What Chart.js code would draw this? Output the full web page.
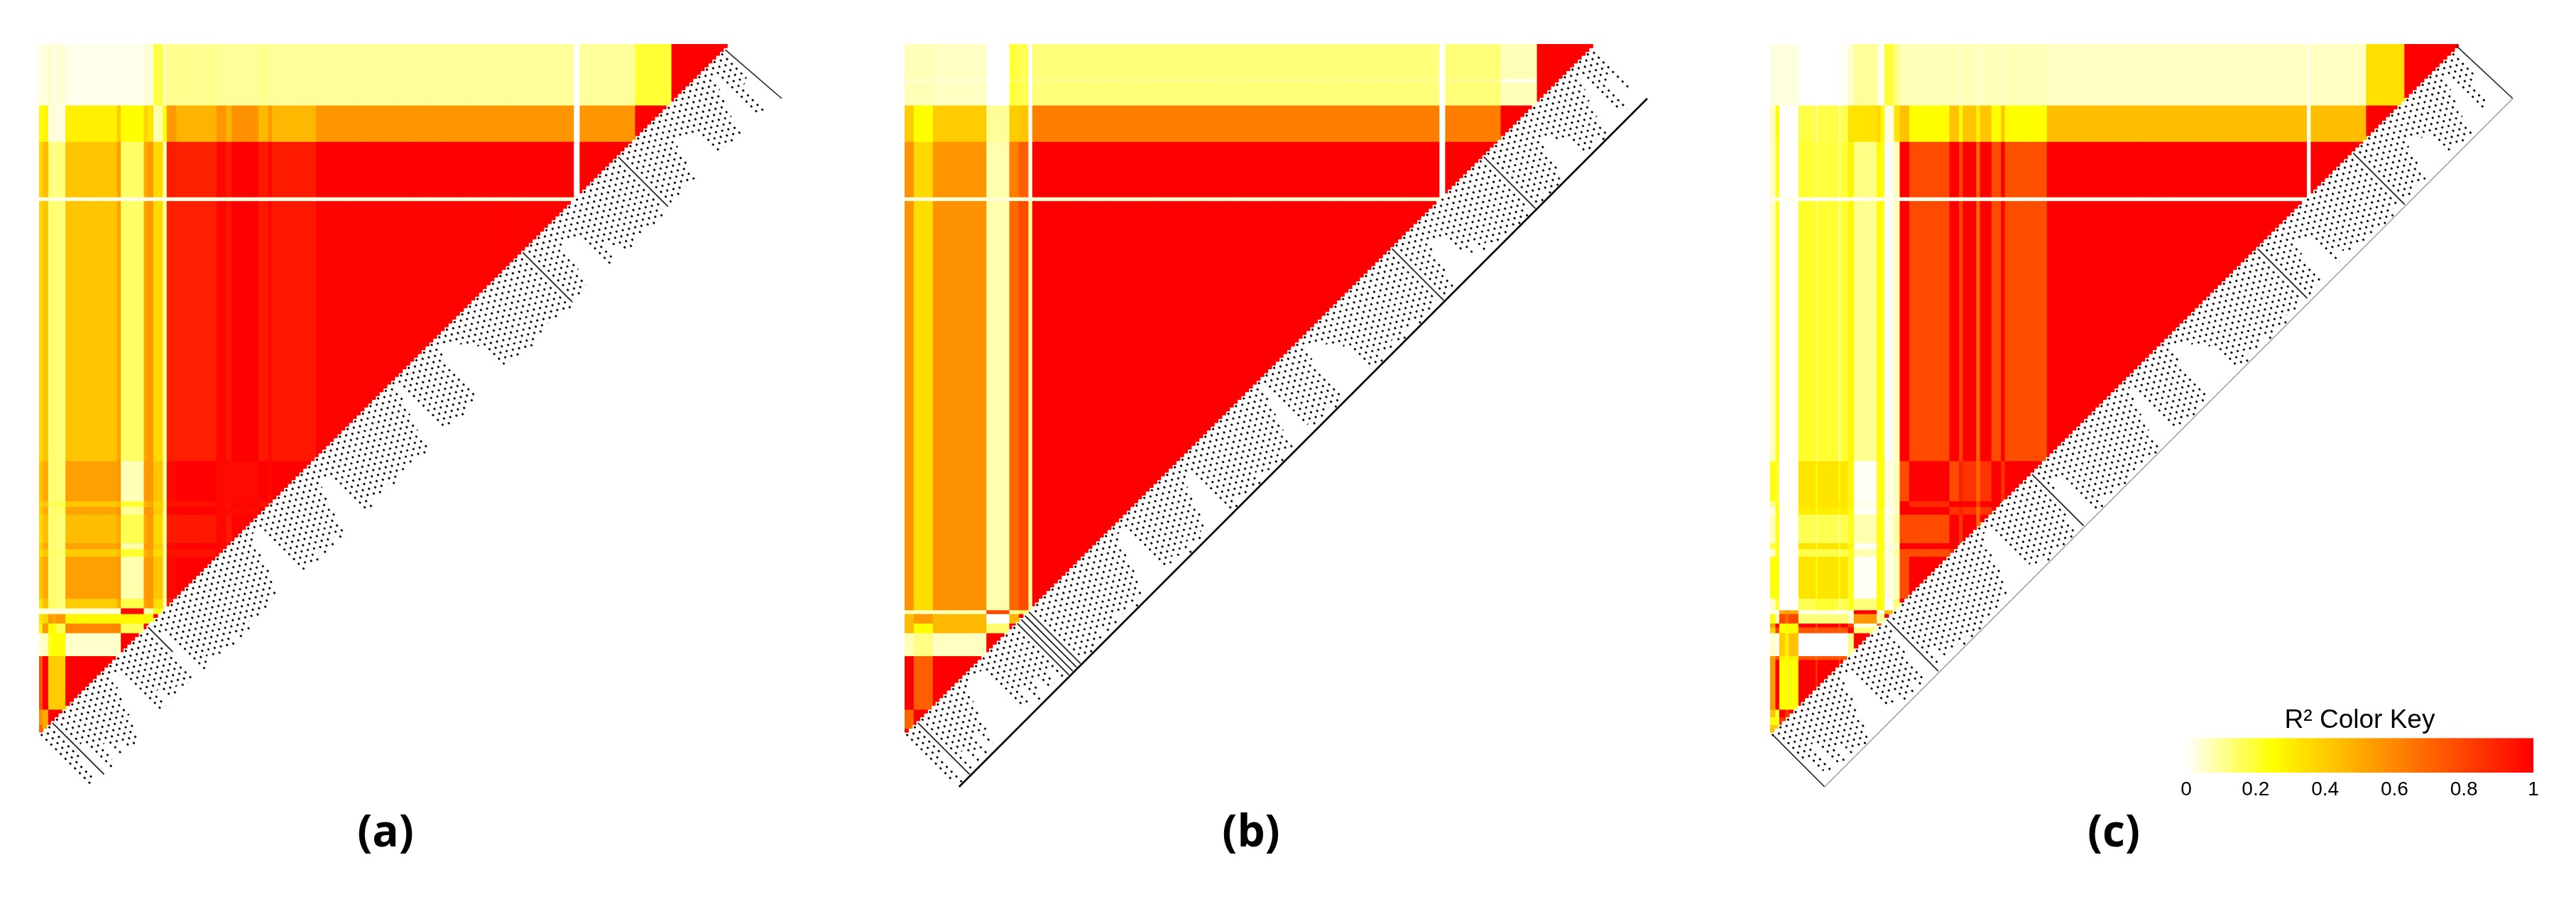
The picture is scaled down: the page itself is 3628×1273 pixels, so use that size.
<!DOCTYPE html>
<html><head><meta charset="utf-8">
<script src="https://cdn.jsdelivr.net/npm/chart.js@4"></script>
<style>html,body{margin:0;background:#fff;overflow:hidden}canvas{position:absolute;display:block}</style>
</head><body>
<canvas id="a"></canvas><canvas id="b"></canvas><canvas id="c"></canvas><canvas id="key"></canvas>
<script>
// Panel (a): band edges on the SNP grid and R2 per band (rows stop at the diagonal)
const colsA=[0,2,5,7,9,14,41,43,55,57,60,65,67,72,93,98,101,115,120,122,145,280,283,312,331,360];
const rowsA=[0,32,51,80,82,218,239,242,246,261,264,268,290,295,298,303,308,320,348,356,360];
const r2A=[
[.04,.03,.05,.03,.04,.02,.02,.02,.04,.04,.18,.08,.11,.11,.1,.1,.1,.11,.1,.1,.1,0,.1,.2,1],
[.25,.27,.02,.05,.03,.29,.4,.25,.38,.33,.08,.25,.55,.47,.56,.47,.57,.46,.56,.46,.56,0,.56,1],
[.36,.44,.14,.11,.13,.42,.53,.15,.5,.55,.36,.08,.92,.9,.98,.93,1,.93,.98,.92,1,0,1],
[.03,.03,.03,.03,.03,.03,.03,.03,.03,.03,.03,.03,.03,.03,.03,.03,.03,.03,.03,.03,.03],
[.36,.42,.13,.15,.13,.42,.52,.15,.52,.55,.36,.1,.91,.91,.98,.94,1,.93,.98,.93,.99],
[.42,.5,.12,.15,.13,.53,.55,.07,.55,.55,.42,.1,.98,1,.97,.97,.97,1,.97,1],
[.38,.42,.17,.15,.17,.42,.45,.2,.45,.5,.38,.15,.95,.95,.98,.95,.98,.95,.98],
[.4,.5,.12,.15,.15,.52,.55,.1,.55,.55,.4,.1,.99,1,.97,.97,.97,1],
[.36,.44,.13,.15,.13,.44,.5,.17,.5,.55,.36,.1,.92,.93,.98,.93,.99],
[.4,.5,.12,.15,.13,.52,.55,.08,.55,.55,.4,.1,.98,1,.98,.98],
[.36,.42,.15,.15,.14,.4,.45,.2,.48,.52,.36,.12,.95,.95,.98],
[.42,.5,.12,.15,.13,.53,.55,.08,.55,.55,.42,.1,.98,1],
[.33,.44,.15,.15,.13,.4,.5,.18,.52,.55,.35,.08,.92],
[.04,.04,.04,.04,.04,.04,.04,.97,.08,.08,.23],
[.33,.38,.55,.5,.55,.27,.27,.27,.27,.27,1],
[.28,.55,.25,.25,.17,.6,.6,.16,1],
[.05,.06,.23,.25,.25,.05,.05,1],
[.75,1,.4,.4,.4,1],
[.58,.5,1,1,1],
[.7,.5]];
const ticksA=[28,26,18,28,14,28,26,20,28,24,27,28,28, 24,19,14,9,4, 6,26, 26,20,26,27,24,27,26,27, 14,6,
27,27,24,27,27,26,27,28,26,28,27,28,26,27,27,26,27,26,26, 26,22,18,12,7,4,4, 27,26,27,28,26,28,27,28,26,28,
28,22,16,10,8,8, 27,28,26,27,28,27,26,28,27,26,28,27,28,26,27,28, 27,20,14,8,3, 26,27,26,27,28,27,26,28,
27,8,3,5,7,9,11,14, 27,26,27,28,26,27,28,27,26,28,27,26,27,28,26,27,28,27,26,27,27,26, 20,11,8,10,12,
28,26,20,24,27,28, 28,27,28,26,27,28,27,28,26,27,28,27,28,27,26,27,28, 22,14,12,13,14,16, 27,26,27,27,26,27,
20,15,10,6,26,27,15,14,2];
const solidA=[3,28,126,151];

// Panel (b)
const colsB=[0,5,15,43,55,60,65,67,280,283,312,331,360];
const rowsB=[0,18,20,32,51,80,82,296,298,303,308,320,348,358,360];
const r2B=[
[.07,.07,.06,0,.19,.17,0,.13,0,.13,.07,1],
[.05,.05,.04,0,.16,.14,0,.11,0,.11,.02,1],
[.07,.07,.06,0,.19,.17,0,.13,0,.13,.07,1],
[.4,.25,.4,.1,.4,.42,.02,.63,0,.63,1],
[.57,.36,.56,.08,.63,.72,.02,1,0,1],
[.04,.04,.04,.04,.04,.04,.04,.04],
[.57,.35,.57,.08,.7,.78,.1,1],
[.07,.07,.07,.8,.1,.15],
[.45,.55,.46,0,.47,1],
[.45,.25,.46,.14,1],
[.07,.12,.06,1],
[1,.72,1],
[.7,1],
[1]];
const ticksB=[26,28,16,28,28,20,27,24,28,18,26, 22,16,10,6,3, 3,3,4, 24,26,18,27,24,20,27,26,22,28,28,28,
28,28,26,28,28,27, 26,28,24,27,26,28,24,26,27,25,28,26, 26,22,18,12,7,4,3, 26,27,24,27,26,28,24,27,28,25,
26,22,16,10,8,6, 27,28,25,27,28,26,27,28,24,27,28,26,27,28,26,27, 27,20,14,8,3, 25,27,26,28,27,26,28,28,
26,9,3,5,7,9,11,14, 26,27,28,26,27,28,25,27,28,26,27,25,28,27,26,28,27,26,28,27,26,27, 22,12,8,10,12,
20,24,20,26,24,27, 28,26,28,27,28,28,27,28,26,28,27,28,26,28,27,28,27, 24,16,12,13,16,18, 27,28,27,26,28,27,
20,14,10,6,24,26,14,12,22];
const solidB=[3,29,30,31,32,127,151];

// Panel (c)
const colsC=[0,3,5,8,10,15,24,25,36,37,41,44,56,58,60,65,68,73,94,99,101,108,110,116,121,123,145,281,283,312,332,360];
const rowsC=[0,32,51,80,82,218,239,242,246,261,264,268,290,296,298,303,305,308,320,322,348,352,356,358,360];
const r2C=[
[.03,.04,.03,.03,.03,0,0,0,.01,.01,.05,.1,.04,.01,.2,.12,.07,.07,.07,.05,.07,.05,.07,.07,.06,.07,.06,.03,.06,.34,1],
[.06,.24,0,0,0,.18,.1,.18,.1,.17,.33,.33,.37,.26,.03,.33,.43,.25,.43,.27,.42,.3,.42,.25,.42,.25,.44,.02,.44,1],
[.06,.22,0,0,0,.2,.15,.19,.1,.2,.28,.12,.26,.24,.01,.07,1,.78,1,.8,1,.7,1,.78,1,.76,1,0,1],
[.02,.02,.02,.02,.02,.02,.02,.02,.02,.02,.02,.02,.02,.02,.02,.02,.02,.02,.02,.02,.02,.02,.02,.02,.02,.02,.02],
[.06,.22,0,0,0,.21,.15,.2,.1,.2,.27,.11,.26,.24,.01,.07,1,.78,1,.8,1,.7,1,.78,1,.77,1],
[.24,.2,0,0,0,.33,.25,.33,.25,.33,.27,.01,.22,.25,.03,.07,.78,1,.78,.9,.85,.7,.85,1,.85,1],
[.12,.22,.01,.01,.01,.33,.28,.33,.3,.33,.28,.02,.25,.25,.03,.08,1,.88,1,1,1,.8,1,1],
[.03,.22,.01,.01,.01,.3,.25,.3,.25,.3,.25,.01,.22,.22,.02,.06,1,1,.85,.9,.85,.7,.85,1],
[.07,.22,0,0,0,.17,.14,.17,.12,.17,.22,.08,.25,.22,.03,.1,.78,.78,1,.85,1,.7,1],
[.2,.22,0,0,0,.33,.25,.33,.25,.33,.27,.01,.22,.25,.03,.07,1,1,1],
[.05,.22,0,0,0,.18,.15,.18,.12,.18,.22,.08,.25,.22,.03,.1,.78,.78,.9],
[.24,.24,0,0,0,.33,.25,.33,.25,.33,.22,.01,.25,.22,.03,.07,.78,1],
[.05,.2,0,0,0,.17,.22,.2,.1,.17,.22,.13,.26,.24,.01,.15,1],
[.02,0,.5,.55,.5,.02,.02,.02,.02,.02,.02,1,.05,0,.45],
[.24,.07,.78,.7,.8,.13,.13,.13,.13,.13,.04,.55,.07,.12,1],
[.55,1,.25,.25,.25,1,.8,1,.8,1,.8,.03,.75],
[.4,.8,.25,.25,.25,.75,.7,.75,.7,.75,1,.13],
[.05,.02,.4,.3,.43,0,0,0,0,0,.12,1],
[.55,.75,.3,.25,.3,.75,.7,.75,.7,.75],
[.55,1,.25,.25,.25,1,.85,1,.85,1],
[.42,.2,1,.85,1],
[.25,.22,.85],
[.4,.4],
[.45]];
const ticksC=[2,16,24,27,14,26,28,22,28,26,27,28,27, 24,18,13,8,4, 5,24, 26,22,27,26,27,24,28,26, 15,7,
28,27,20,27,26,27,26,28,26,28,27,28,28,27,28,26,27,26,26, 27,22,18,12,7,4,3, 24,27,26,28,27,26,28,28,27,28,
28,22,28,11,8,8, 27,28,26,27,28,27,28,28,27,26,28,27,28,26,27,28, 28,20,14,8,4, 26,27,26,28,28,27,26,28,
27,10,3,5,7,9,11,14, 26,27,28,26,27,28,27,26,28,27,26,27,28,26,27,28,27,26,27,28,27,26, 26,14,8,10,12,
26,22,24,27,25,27, 28,27,28,26,27,28,27,28,26,27,28,27,28,27,26,27,28, 22,14,12,13,15,16, 27,26,27,27,26,27,
20,15,10,6,24,22,14,12,2];
const solidC=[30,68,127,152];

const panelLabels=['(a)','(b)','(c)'];
const keyTicks=[0,0.2,0.4,0.6,0.8,1];
const keyTitle='R\u00B2 Color Key';
const SNP_GRID=360, AXIS_MAX=390, TICK_SPAN=28.5;

// heat-colour ramp of the colour key
function heat(v){
  if(v<.25) return `rgb(255,255,${Math.round(255*(1-v/.25))})`;
  return `rgb(255,${Math.round(255*(1-(v-.25)/.75))},0)`;
}
function heatDatasets(cols,rows,r2){
  const out=[];
  r2.forEach((row,ri)=>{
    const data=[],colors=[];
    for(let c=0;c<SNP_GRID;c++){
      const limit=SNP_GRID-2*Math.floor(c/2);
      const lo=rows[ri], hi=Math.min(rows[ri+1],limit);
      if(hi<=lo) continue;
      let b=0; while(b<cols.length-2 && c>=cols[b+1]) b++;
      if(b>=row.length) continue;
      data.push({x:c+.5,y:[lo,hi]}); colors.push(heat(row[b]));
    }
    out.push({type:'bar',data,backgroundColor:colors,borderWidth:0,barThickness:3.2,grouped:false,order:5});
  });
  return out;
}
function tickDatasets(ticks,solid){
  return ticks.map((len,k)=>{
    const s=2*k, isSolid=solid.includes(k);
    return {type:'line',data:[{x:s+1,y:SNP_GRID-s+1},{x:s+len,y:SNP_GRID-s+len}],
      borderColor:isSolid?'#222':'#000',borderWidth:isSolid?1.8:2.6,borderDash:isSolid?[]:[3,6.5],
      borderDashOffset:(k%2)*4.75,pointRadius:0,fill:false,tension:0,order:1};
  });
}
function lineDataset(p,q,color,w){
  return {type:'line',data:[p,q],borderColor:color,borderWidth:w,pointRadius:0,fill:false,tension:0,order:0};
}
const S=SNP_GRID,T=TICK_SPAN;
const extras={
  a:[lineDataset({x:S-1,y:3},{x:S+T,y:T},'#222',1.6)],
  b:[lineDataset({x:T,y:S+T},{x:S+T,y:T},'#000',2.6)],
  c:[lineDataset({x:T,y:S+T},{x:S+T,y:T},'#999',1.4),
     lineDataset({x:S-1,y:1},{x:S+T,y:T},'#222',1.6),
     lineDataset({x:1,y:S+1},{x:T,y:S+T},'#222',1.6)]
};
function panel(id,left,cols,rows,r2,ticks,solid,label,labelSpan){
  const cv=document.getElementById(id);
  cv.style.left=left+'px'; cv.style.top='62px'; cv.width=1050; cv.height=1150;
  let fullRight;
  new Chart(cv,{type:'bar',
    data:{datasets:[...extras[id],...tickDatasets(ticks,solid),...heatDatasets(cols,rows,r2)]},
    plugins:[{id:'labelSpan',
      beforeDraw(ch){fullRight=ch.scales.x.right;ch.scales.x.right=ch.scales.x.left+labelSpan;},
      beforeDatasetsDraw(ch){ch.scales.x.right=fullRight;}}],
    options:{responsive:false,animation:false,events:[],devicePixelRatio:1,
      layout:{padding:0},
      plugins:{legend:{display:false},tooltip:{enabled:false},title:{display:false}},
      scales:{
        x:{type:'linear',min:0,max:AXIS_MAX,offset:false,grid:{display:false},border:{display:false},
           ticks:{display:false},
           title:{display:true,text:label,color:'#000',font:{family:'"Open Sans"',weight:'bold',size:62},padding:{top:0,bottom:0}},
           afterFit(sc){sc.height=100;}},
        y:{type:'linear',display:false,reverse:true,min:0,max:AXIS_MAX}
      }}});
}
panel('a',55,colsA,rowsA,r2A,ticksA,solidA,panelLabels[0],976);
panel('b',1274,colsB,rowsB,r2B,ticksB,solidB,panelLabels[1],976);
panel('c',2493,colsC,rowsC,r2C,ticksC,solidC,panelLabels[2],968);

// colour key
const keySteps=[]; for(let i=0;i<=100;i++) keySteps.push(i/100);
const kc=document.getElementById('key');
kc.style.left='3059px'; kc.style.top='993px'; kc.width=530; kc.height=139;
new Chart(kc,{type:'bar',
  data:{datasets:[{data:keySteps.map(v=>({x:v,y:[0,1]})),backgroundColor:keySteps.map(heat),borderWidth:0,barThickness:6,grouped:false}]},
  options:{responsive:false,animation:false,events:[],devicePixelRatio:1,
    layout:{padding:{left:20,right:21}},
    plugins:{legend:{display:false},tooltip:{enabled:false},
      title:{display:true,text:keyTitle,color:'#000',font:{family:'"Liberation Sans"',size:37,weight:'normal'},padding:{top:0,bottom:2}}},
    scales:{
      x:{type:'linear',min:0,max:1,offset:false,grid:{display:false,drawTicks:false},border:{display:false},
         afterBuildTicks(sc){sc.ticks=keyTicks.map(v=>({value:v}));},
         ticks:{color:'#000',padding:7,maxRotation:0,autoSkip:false,font:{family:'"Liberation Sans"',size:28},callback:v=>String(v)},
         afterFit(sc){sc.height=44;}},
      y:{type:'linear',display:false,min:0,max:1}
    }}});
</script>
</body></html>
